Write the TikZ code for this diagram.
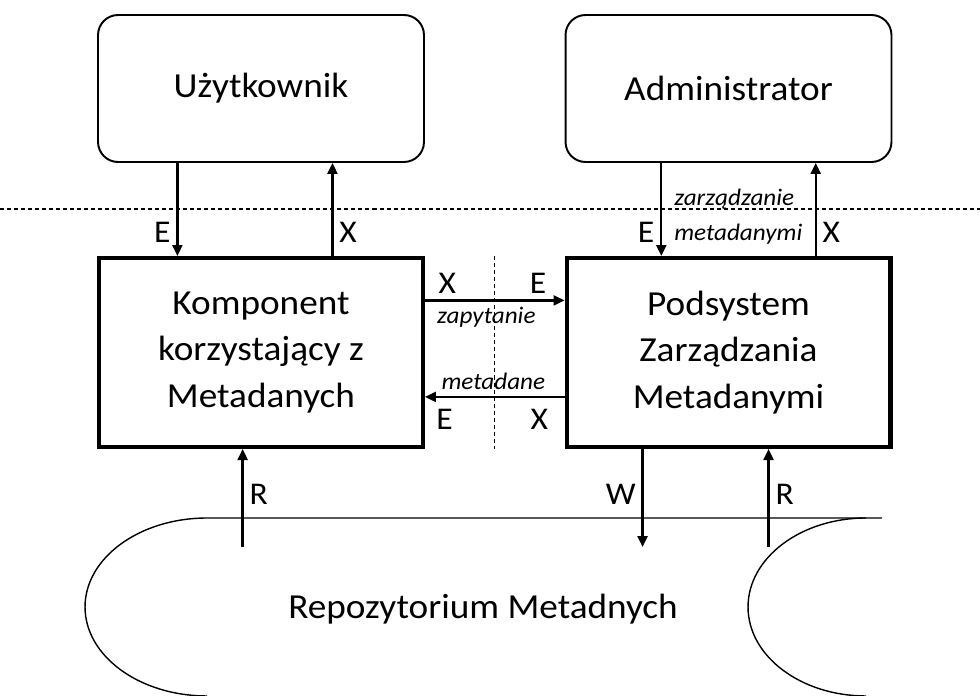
\documentclass[tikz,border=0pt]{standalone}
\usepackage{fontspec}
\setmainfont{Carlito}[FakeStretch=1.06]
\usetikzlibrary{arrows.meta, calc}
\tikzset{actor/.style = {draw, line width=1.1pt, rounded corners=0.4cm, minimum width=6.52cm, minimum height=2.94cm, font=\fontsize{20}{26.5}\selectfont}}
\tikzset{module/.style = {draw, line width=2.3pt, minimum width=6.48cm, minimum height=3.78cm, align=center, font=\fontsize{20}{26.5}\selectfont}}
\tikzset{flow/.style = {line width=1.3pt, -{Triangle[length=0.22cm, width=0.2cm]}}}
\tikzset{lbl/.style = {font=\fontsize{18}{21}\selectfont}, note/.style = {font=\fontsize{13.5}{20}\selectfont\itshape}}
\tikzset{border/.style = {line width=0.6pt, dash pattern=on 2.3pt off 1.7pt}}

\begin{document}
\begin{tikzpicture}[x=0.02cm, y=-0.02cm]
\useasboundingbox (0,0) rectangle (980,696);
\node [actor] (user) at (261,88.5) {Użytkownik};
\node [actor] (admin) at (728.5,88.5) {Administrator};
\node [module] (comp) at (261,352.5) {Komponent\\korzystający z\\Metadanych};
\node [module] (pod) at (728.5,352.5) {Podsystem\\Zarządzania\\Metadanymi};
% repozytorium
\draw [line width=0.8pt] (882,518) -- (207,518) arc [start angle=90, end angle=270, x radius=2.44cm, y radius=1.78cm];
\draw [line width=0.8pt] (866,518) arc [start angle=90, end angle=270, x radius=2.36cm, y radius=1.78cm];
\node [anchor=base, font=\fontsize{20}{26.5}\selectfont] (repo) at (483,618) {Repozytorium Metadnych};
% granice
\draw [border] (0,209) -- (980,209);
\draw [border] ($(comp.north east)!.5!(pod.north west)$) -- ($(comp.south east)!.5!(pod.south west)$);
% uzytkownik
\coordinate (ue) at ($(user.south west)!.245!(user.south east)$);
\coordinate (ux) at ($(user.south west)!.718!(user.south east)$);
\draw [flow] (ue) -- (ue |- comp.north) node [lbl, pos=.75, left] {E};
\draw [flow] (ux |- comp.north) -- (ux) node [lbl, pos=.25, right] {X};
% administrator
\coordinate (ae) at ($(admin.south west)!.295!(admin.south east)$);
\coordinate (ax) at ($(admin.south west)!.766!(admin.south east)$);
\draw [flow] (ae) -- (ae |- pod.north) node [lbl, pos=.75, left] {E} node [note, pos=.58, right, align=left, xshift=0.12cm] {zarządzanie\\metadanymi};
\draw [flow] (ax |- pod.north) -- (ax) node [lbl, pos=.25, right] {X};
% zapytanie / metadane
\coordinate (q) at ($(comp.north east)!.23!(comp.south east)$);
\coordinate (m) at ($(comp.north east)!.73!(comp.south east)$);
\draw [flow] (q) -- (q -| pod.west) node [lbl, pos=.16, above] {X} node [lbl, pos=.81, above] {E} node [note, pos=.44, below] {zapytanie};
\draw [flow] (m -| pod.west) -- (m) node [note, pos=.51, above] {metadane} node [lbl, pos=.18, below, yshift=-0.1cm] {X} node [lbl, pos=.86, below, yshift=-0.1cm] {E};
% repozytorium R / W
\coordinate (r1) at ($(comp.south west)!.444!(comp.south east) + (0,98)$);
\coordinate (w) at ($(pod.south west)!.238!(pod.south east) + (0,98)$);
\coordinate (r2) at ($(pod.south west)!.622!(pod.south east) + (0,98)$);
\draw [flow] (r1) -- (r1 |- comp.south) node [lbl, pos=.54, right] {R};
\draw [flow] (w |- pod.south) -- (w) node [lbl, pos=.46, left] {W};
\draw [flow] (r2) -- (r2 |- pod.south) node [lbl, pos=.54, right] {R};
\end{tikzpicture}
\end{document}
